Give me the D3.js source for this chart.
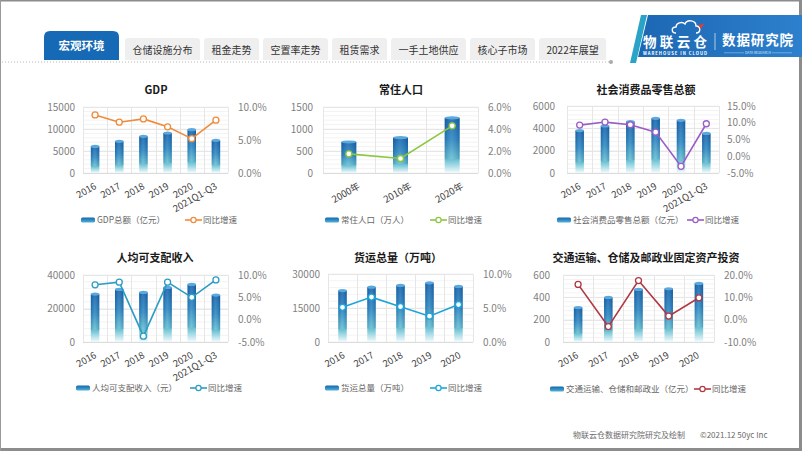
<!DOCTYPE html>
<html><head><meta charset="utf-8">
<script src="https://cdn.jsdelivr.net/npm/d3@7"></script>
<style>
body{margin:0;background:#fff;}
svg{display:block;font-family:"Microsoft YaHei","Noto Sans CJK SC","Noto Sans",sans-serif;}
</style>
</head><body>
<svg id="c" width="802" height="451"></svg>
<script>
// ---------------- data ----------------
const tabLabels = ['宏观环境','仓储设施分布','租金走势','空置率走势','租赁需求','一手土地供应','核心子市场','2022年展望'];
const yearCats6 = ['2016','2017','2018','2019','2020','2021Q1-Q3'];
const yearCats5 = ['2016','2017','2018','2019','2020'];
const censusCats = ['2000年','2010年','2020年'];

const gdpValues = [6050, 7200, 8330, 9090, 9850, 7420];
const gdpGrowth = [8.8, 7.7, 8.2, 7.0, 5.2, 8.0];
const gdpLeftTicks = [0, 5000, 10000, 15000];
const gdpRightTicks = [0, 5, 10];

const popValues = [705, 802, 1252];
const popGrowth = [1.74, 1.32, 4.29];
const popLeftTicks = [0, 500, 1000, 1500];
const popRightTicks = [0, 2, 4, 6];

const retailValues = [3800, 4220, 4600, 4900, 4720, 3540];
const retailGrowth = [9.3, 10.2, 9.4, 7.2, -3.0, 9.7];
const retailLeftTicks = [0, 2000, 4000, 6000];
const retailRightTicks = [-5, 0, 5, 10, 15];

const incomeValues = [28600, 31400, 29600, 32600, 34400, 28000];
const incomeGrowth = [7.8, 8.4, -3.7, 8.4, 5.0, 8.9];
const incomeLeftTicks = [0, 20000, 40000];
const incomeRightTicks = [-5, 0, 5, 10];

const freightValues = [22700, 24200, 24950, 26100, 24500];
const freightGrowth = [5.1, 6.6, 5.2, 3.8, 5.5];
const freightLeftTicks = [0, 15000, 30000];
const freightRightTicks = [0, 5, 10];

const investValues = [309, 399, 471, 477, 525];
const investGrowth = [15.8, -3.1, 17.5, 1.6, 9.8];
const investLeftTicks = [0, 200, 400, 600];
const investRightTicks = [-10, 0, 10, 20];

const growthName = '同比增速';
const footerText = '物联云仓数据研究院研究及绘制';
const copyrightText = '©2021.12 50yc Inc';

// ---------------- setup ----------------
const svg = d3.select('#c');
const defs = svg.append('defs');
const bg = defs.append('linearGradient').attr('id','barGrad').attr('x1',0).attr('y1',0).attr('x2',0).attr('y2',1);
[[0,'#1563ad'],[0.4,'#2a86c2'],[0.75,'#66bfd2'],[1,'#f4fbfc']].forEach(s=>bg.append('stop').attr('offset',s[0]).attr('stop-color',s[1]));
const bh = defs.append('linearGradient').attr('id','barShade').attr('x1',0).attr('y1',0).attr('x2',1).attr('y2',0);
[[0,'rgba(0,40,90,0.18)'],[0.45,'rgba(255,255,255,0.12)'],[1,'rgba(0,40,90,0.2)']].forEach(s=>bh.append('stop').attr('offset',s[0]).attr('stop-color',s[1]));
const lg = defs.append('linearGradient').attr('id','legGrad').attr('x1',0).attr('y1',0).attr('x2',0).attr('y2',1);
[[0,'#1665b0'],[1,'#4fb1d3']].forEach(s=>lg.append('stop').attr('offset',s[0]).attr('stop-color',s[1]));
const logoG = defs.append('linearGradient').attr('id','logoGrad').attr('x1',0).attr('y1',0).attr('x2',1).attr('y2',0);
[[0,'#1c67b3'],[1,'#2d80cd']].forEach(s=>logoG.append('stop').attr('offset',s[0]).attr('stop-color',s[1]));

// frame
svg.append('rect').attr('x',0).attr('y',0).attr('width',802).attr('height',451).attr('fill','#fff');
svg.append('line').attr('x1',0).attr('x2',802).attr('y1',0.5).attr('y2',0.5).attr('stroke','#8c8c8c').attr('stroke-width',2);
svg.append('line').attr('x1',0).attr('x2',802).attr('y1',449.5).attr('y2',449.5).attr('stroke','#8c8c8c').attr('stroke-width',3);
svg.append('line').attr('x1',0.5).attr('x2',0.5).attr('y1',0).attr('y2',451).attr('stroke','#9a9a9a').attr('stroke-width',1);
svg.append('line').attr('x1',800.5).attr('x2',800.5).attr('y1',0).attr('y2',451).attr('stroke','#8c8c8c').attr('stroke-width',3);

// ---------------- header tabs ----------------
function topRounded(x,y,w,h,r){
  return `M${x},${y+h}V${y+r}Q${x},${y} ${x+r},${y}H${x+w-r}Q${x+w},${y} ${x+w},${y+r}V${y+h}Z`;
}
const tabs = svg.append('g');
tabs.append('path').attr('d',topRounded(44,31,75,29,6)).attr('fill','#1669b4');
tabs.append('text').attr('x',81.5).attr('y',46).attr('dy','0.35em').attr('text-anchor','middle')
  .attr('fill','#fff').attr('font-size',11.5).attr('font-weight','bold').text(tabLabels[0]);
let tx = 125;
tabLabels.slice(1).forEach(t=>{
  const txt = tabs.append('text').attr('y',50).attr('dy','0.35em').attr('text-anchor','middle')
    .attr('fill','#333').attr('font-size',10).text(t);
  const w = txt.node().getComputedTextLength() + 15;
  tabs.insert('path','text').attr('d',topRounded(tx,38,w,22,3)).attr('fill','#efefef');
  txt.attr('x',tx + w/2);
  tx += w + 4;
});
svg.append('line').attr('x1',2).attr('x2',610).attr('y1',62).attr('y2',62)
  .attr('stroke','#b8b8b8').attr('stroke-dasharray','1,2').attr('stroke-width',1);
svg.append('circle').attr('cx',611).attr('cy',62).attr('r',2).attr('fill','#aaa');

// ---------------- logo ----------------
const logo = svg.append('g');
logo.append('polygon').attr('points','630,63 636,63 647,15 641,15').attr('fill','#2aa4c6');
logo.append('polygon').attr('points','648,15 802,15 802,57 638,57').attr('fill','url(#logoGrad)');
logo.append('path').attr('d','M676,33 C671,33 671,27 676,27 C676,23 682,21 685,24 C687,19 696,20 696,26 C701,26 701,33 696,33')
  .attr('fill','none').attr('stroke','#fff').attr('stroke-width',1.4);
logo.append('polygon').attr('points','698,25 704,24 701,29').attr('fill','#e23b3b');
logo.append('text').attr('x',643).attr('y',47).attr('fill','#fff').attr('font-size',13.5).attr('font-weight','bold')
  .attr('textLength',64).text('物联云仓');
logo.append('text').attr('x',643).attr('y',55).attr('fill','#fff').attr('font-size',4.2).attr('font-weight','bold')
  .attr('textLength',64).text('WAREHOUSE IN CLOUD');
logo.append('line').attr('x1',715).attr('x2',715).attr('y1',33).attr('y2',50).attr('stroke','#cfe3f5').attr('stroke-width',0.8);
logo.append('text').attr('x',722).attr('y',45).attr('fill','#fff').attr('font-size',13.5).attr('font-weight','bold')
  .attr('textLength',71).text('数据研究院');
logo.append('text').attr('x',758).attr('y',54).attr('text-anchor','middle').attr('fill','#d9e9f7').attr('font-size',3.4).text('DATA RESEARCH');
logo.append('line').attr('x1',724).attr('x2',744).attr('y1',52.8).attr('y2',52.8).attr('stroke','#b9d6f0').attr('stroke-width',0.5);
logo.append('line').attr('x1',772).attr('x2',792).attr('y1',52.8).attr('y2',52.8).attr('stroke','#b9d6f0').attr('stroke-width',0.5);

// ---------------- charts ----------------
const charts = [
  {title:'GDP', cats:yearCats6, values:gdpValues, growth:gdpGrowth, lt:gdpLeftTicks, rt:gdpRightTicks,
   barName:'GDP总额（亿元）', color:'#ef8b3b',
   L:{x0:83,x1:228,y0:107,y1:173,barW:8.5,lgap:8,rgap:10,ldx:2,titleX:156,titleY:90,legY:220,legBarX:81,legLineX:185}},
  {title:'常住人口', cats:censusCats, values:popValues, growth:popGrowth, lt:popLeftTicks, rt:popRightTicks,
   barName:'常住人口（万人）', color:'#8cc63f',
   L:{x0:323,x1:478,y0:107,y1:173,barW:15,lgap:10,rgap:10,ldx:12,titleX:401,titleY:90,legY:220,legBarX:325,legLineX:430}},
  {title:'社会消费品零售总额', cats:yearCats6, values:retailValues, growth:retailGrowth, lt:retailLeftTicks, rt:retailRightTicks,
   barName:'社会消费品零售总额（亿元）', color:'#9a5cc6',
   L:{x0:567,x1:719,y0:106,y1:173,barW:8.5,lgap:12,rgap:8,ldx:2,titleX:646,titleY:90,legY:220,legBarX:557,legLineX:687}},
  {title:'人均可支配收入', cats:yearCats6, values:incomeValues, growth:incomeGrowth, lt:incomeLeftTicks, rt:incomeRightTicks,
   barName:'人均可支配收入（元）', color:'#2c9cc4',
   L:{x0:83,x1:228,y0:275,y1:342,barW:8.5,lgap:8,rgap:10,ldx:2,titleX:155,titleY:258,legY:388,legBarX:76,legLineX:190}},
  {title:'货运总量（万吨）', cats:yearCats5, values:freightValues, growth:freightGrowth, lt:freightLeftTicks, rt:freightRightTicks,
   barName:'货运总量（万吨）', color:'#1ba4dc',
   L:{x0:328,x1:473,y0:274,y1:342,barW:8.5,lgap:8,rgap:10,ldx:3,titleX:398,titleY:258,legY:388,legBarX:325,legLineX:430}},
  {title:'交通运输、仓储及邮政业固定资产投资', cats:yearCats5, values:investValues, growth:investGrowth, lt:investLeftTicks, rt:investRightTicks,
   barName:'交通运输、仓储和邮政业（亿元）', color:'#b03842',
   L:{x0:563,x1:714,y0:275,y1:342,barW:8.5,lgap:13,rgap:10,ldx:1,titleX:646,titleY:258,legY:389,legBarX:550,legLineX:694}}
];

function drawChart(c){
  const L = c.L;
  const g = svg.append('g');
  const x = d3.scaleBand().domain(c.cats).range([L.x0,L.x1]);
  const yL = d3.scaleLinear().domain(d3.extent(c.lt)).range([L.y1,L.y0]);
  const yR = d3.scaleLinear().domain(d3.extent(c.rt)).range([L.y1,L.y0]);

  const grid = g.append('g');
  const nMinor = (c.lt.length-1)*5;
  d3.range(nMinor+1).forEach(i=>{
    const yy = L.y1 - (L.y1-L.y0)*i/nMinor;
    grid.append('line').attr('x1',L.x0).attr('x2',L.x1).attr('y1',yy).attr('y2',yy).attr('stroke','#f3f3f3');
  });
  c.lt.forEach(t=>{
    grid.append('line').attr('x1',L.x0).attr('x2',L.x1).attr('y1',Math.round(yL(t))+0.5).attr('y2',Math.round(yL(t))+0.5).attr('stroke','#e6e6e6');
  });
  c.cats.concat([null]).forEach(d=>{
    const xx = d===null ? L.x1 : x(d);
    grid.append('line').attr('x1',Math.round(xx)+0.5).attr('x2',Math.round(xx)+0.5).attr('y1',L.y0).attr('y2',L.y1).attr('stroke','#e6e6e6');
  });
  grid.append('line').attr('x1',L.x0).attr('x2',L.x1).attr('y1',L.y1+0.5).attr('y2',L.y1+0.5).attr('stroke','#dcdcdc');

  const ax = g.append('g').attr('transform',`translate(${L.x0},0)`)
    .call(d3.axisLeft(yL).tickValues(c.lt).tickSize(0).tickPadding(L.lgap).tickFormat(d3.format('d')));
  const ar = g.append('g').attr('transform',`translate(${L.x1},0)`)
    .call(d3.axisRight(yR).tickValues(c.rt).tickSize(0).tickPadding(L.rgap).tickFormat(d=>d.toFixed(1)+'%'));
  const ab = g.append('g').attr('transform',`translate(0,${L.y1})`)
    .call(d3.axisBottom(x).tickSize(0));
  [ax,ar,ab].forEach(a=>{
    a.select('.domain').remove();
    a.attr('font-family',null);
  });
  ax.selectAll('text').attr('font-size',10).attr('fill','#7f7f7f');
  ar.selectAll('text').attr('font-size',10).attr('fill','#7f7f7f');
  ab.selectAll('text').attr('font-size',9.5).attr('fill','#404040')
    .attr('y',0).attr('dy',0).attr('x',0)
    .attr('text-anchor','end')
    .attr('transform',`translate(${L.ldx},15) rotate(-30)`);

  const bars = g.append('g');
  c.cats.forEach((d,i)=>{
    const cx = x(d) + x.bandwidth()/2;
    const top = yL(c.values[i]);
    const h = L.y1 - top;
    bars.append('rect').attr('x',cx-L.barW/2).attr('y',top).attr('width',L.barW).attr('height',h).attr('fill','url(#barGrad)');
    bars.append('rect').attr('x',cx-L.barW/2).attr('y',top).attr('width',L.barW).attr('height',h*0.75).attr('fill','url(#barShade)');
    bars.append('ellipse').attr('cx',cx).attr('cy',top).attr('rx',L.barW/2).attr('ry',1.6).attr('fill','#5aa9de');
  });

  const line = d3.line().x((d,i)=>x(c.cats[i])+x.bandwidth()/2).y(d=>yR(d));
  g.append('path').datum(c.growth).attr('d',line).attr('fill','none').attr('stroke',c.color).attr('stroke-width',1.6);
  g.selectAll(null).data(c.growth).enter().append('circle')
    .attr('cx',(d,i)=>x(c.cats[i])+x.bandwidth()/2).attr('cy',d=>yR(d)).attr('r',3)
    .attr('fill','#fff').attr('stroke',c.color).attr('stroke-width',1.3);

  g.append('text').attr('x',L.titleX).attr('y',L.titleY).attr('dy','0.35em').attr('text-anchor','middle')
    .attr('font-size',11).attr('font-weight','bold').attr('fill','#1a1a1a').text(c.title);

  const lgd = g.append('g');
  lgd.append('rect').attr('x',L.legBarX).attr('y',L.legY-2.5).attr('width',14).attr('height',5).attr('rx',1.5).attr('fill','url(#legGrad)');
  lgd.append('text').attr('x',L.legBarX+16).attr('y',L.legY).attr('dy','0.35em').attr('font-size',8.5).attr('fill','#666').text(c.barName);
  lgd.append('line').attr('x1',L.legLineX).attr('x2',L.legLineX+17).attr('y1',L.legY).attr('y2',L.legY).attr('stroke',c.color).attr('stroke-width',1.6);
  lgd.append('circle').attr('cx',L.legLineX+8.5).attr('cy',L.legY).attr('r',2.6).attr('fill','#fff').attr('stroke',c.color).attr('stroke-width',1.2);
  lgd.append('text').attr('x',L.legLineX+18).attr('y',L.legY).attr('dy','0.35em').attr('font-size',8.5).attr('fill','#666').text(growthName);
}
charts.forEach(drawChart);

svg.append('text').attr('x',573).attr('y',435).attr('dy','0.35em').attr('font-size',8).attr('fill','#6b6b6b').text(footerText);
svg.append('text').attr('x',700).attr('y',435).attr('dy','0.35em').attr('font-size',8).attr('fill','#6b6b6b').text(copyrightText);
</script>
</body></html>
